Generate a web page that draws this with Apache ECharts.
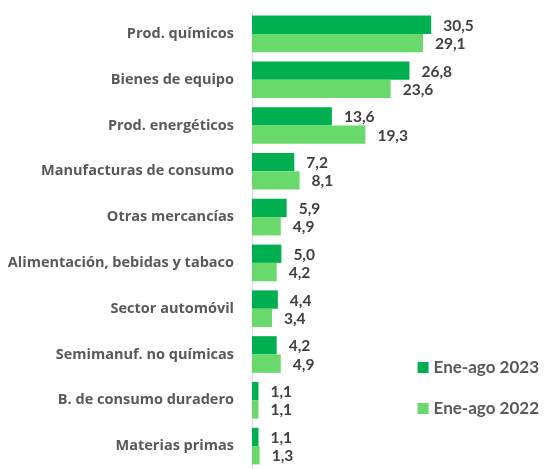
<!DOCTYPE html>
<html><head><meta charset="utf-8">
<script src="https://cdn.jsdelivr.net/npm/echarts@6/dist/echarts.min.js"></script>
<style>html,body{margin:0;padding:0;background:#fff}#c{width:544px;height:469px}</style>
</head><body><div id="c"></div>
<script>
const categories = ["Prod. químicos","Bienes de equipo","Prod. energéticos","Manufacturas de consumo","Otras mercancías","Alimentación, bebidas y tabaco","Sector automóvil","Semimanuf. no químicas","B. de consumo duradero","Materias primas"];
const values2023 = [30.5,26.8,13.6,7.2,5.9,5.0,4.4,4.2,1.1,1.1];
const values2022 = [29.1,23.6,19.3,8.1,4.9,4.2,3.4,4.9,1.1,1.3];
const seriesNames = ["Ene-ago 2023","Ene-ago 2022"];
const FONT = "Lato";
const fmt = p => p.value.toFixed(1).replace('.', ',');
const chart = echarts.init(document.getElementById('c'), null, {renderer:'canvas'});
const lbl = {show:true, position:'right', distance:12, offset:[0,1], formatter:fmt, color:'#404040', fontSize:15.5, fontWeight:'bold', fontFamily:FONT};
chart.setOption({
  animation:false,
  grid:{left:252, top:11, height:462, width:235, containLabel:false},
  xAxis:{type:'value', min:0, max:40, show:false},
  yAxis:{type:'category', data:categories, inverse:true,
    axisLine:{show:true, lineStyle:{color:'#d9d9d9', width:1}},
    axisTick:{show:false},
    axisLabel:{color:'#595959', fontSize:14.5, fontWeight:'bold', fontFamily:"Open Sans", margin:18, padding:[5,0,0,0]}},
  legend:{orient:'vertical', right:0, top:354, itemWidth:11, itemHeight:11, itemGap:24,
    icon:'rect', textStyle:{color:'#595959', fontSize:17, fontWeight:'bold', fontFamily:FONT},
    data:seriesNames},
  series:[
    {name:seriesNames[0], type:'bar', data:values2023, itemStyle:{color:'#00b050'}, barGap:'0%', barCategoryGap:'20%', label:lbl},
    {name:seriesNames[1], type:'bar', data:values2022, itemStyle:{color:'#6ad96c'}, barGap:'0%', barCategoryGap:'20%', label:lbl}
  ]
});
</script></body></html>
